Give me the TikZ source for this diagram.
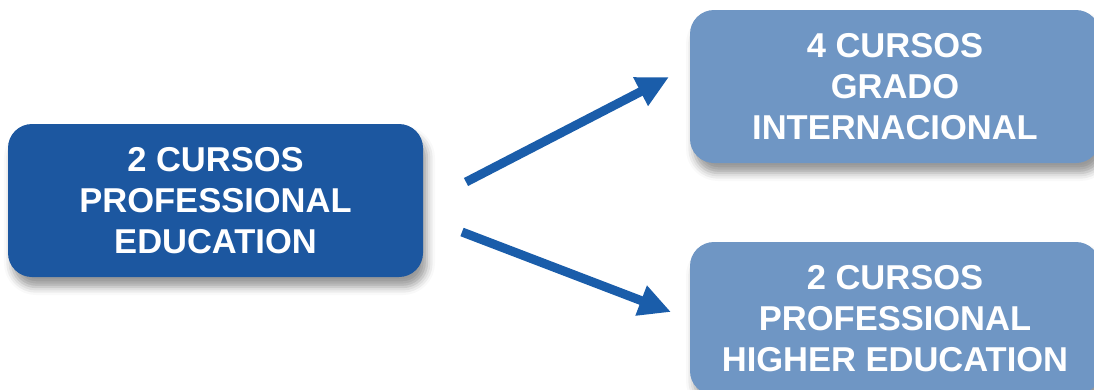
\documentclass[tikz,border=0pt]{standalone}
\usepackage{fontspec}
\setmainfont{Liberation Sans}
\usetikzlibrary{arrows.meta,shadows.blur}
\definecolor{darkbox}{HTML}{1C57A0}
\definecolor{lightbox}{HTML}{6F96C4}
\definecolor{arrowblue}{HTML}{1A5DAA}
\tikzset{
  box/.style={rounded corners=24pt, text=white, align=center,
    font=\fontsize{34.5}{41}\selectfont\bfseries, inner sep=0pt,
    blur shadow={shadow xshift=4pt, shadow yshift=-10pt, shadow blur radius=8pt, shadow opacity=40}},
  arr/.style={draw=arrowblue, line width=9pt, -{Triangle[length=32pt,width=30pt]}}
}
\begin{document}
\begin{tikzpicture}[x=1pt,y=-1pt]
\useasboundingbox (0,0) rectangle (1094,389);
\clip (0,0) rectangle (1094,389);
\node[box, fill=darkbox, minimum width=415pt, minimum height=153pt] (src) at (215.5,200.5)
  {2 CURSOS\\PROFESSIONAL\\EDUCATION};
\node[box, fill=lightbox, minimum width=410pt, minimum height=153pt] (grado) at (895,86.5)
  {4 CURSOS\\GRADO\\INTERNACIONAL};
\node[box, fill=lightbox, minimum width=410pt, minimum height=153pt] (higher) at (895,318.5)
  {2 CURSOS\\PROFESSIONAL\\HIGHER EDUCATION};
\coordinate (a1s) at (466,182);
\coordinate (a1e) at (669,77);
\coordinate (a2s) at (462,232);
\coordinate (a2e) at (671,312);
\draw[arr] (a1s) -- (a1e);
\draw[arr] (a2s) -- (a2e);
\end{tikzpicture}
\end{document}
